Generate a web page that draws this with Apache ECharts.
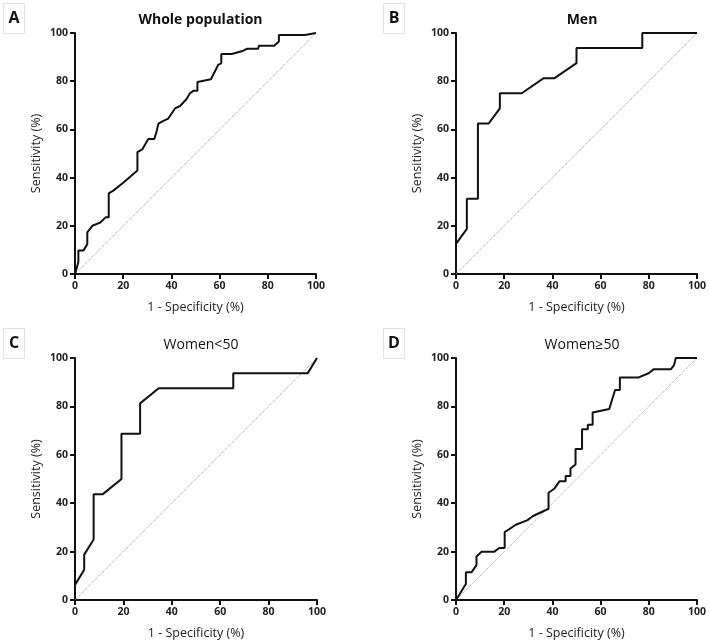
<!DOCTYPE html>
<html>
<head>
<meta charset="utf-8">
<title>ROC curves</title>
<script src="https://cdn.jsdelivr.net/npm/echarts@6/dist/echarts.min.js"></script>
<style>
  html, body { margin: 0; padding: 0; background: #fff; }
  #chart { width: 709px; height: 641px; }
</style>
</head>
<body>
<div id="chart"></div>
<script>
// A - whole population
const wholeFpr = [0, 1.4, 1.4, 3.5, 5.1, 5.1, 7.2, 10.4, 12.7, 14, 14, 15.9, 20, 25.9, 25.9, 27.9, 30.4, 32.9, 33.9, 34.6, 34.6, 36.7, 38.7, 41.5, 43.6, 46.3, 47.7, 49.1, 50.8, 50.8, 53.3, 56.4, 59.5, 60.7, 60.7, 65, 69.2, 71.5, 76, 76.3, 82.7, 84.6, 84.6, 95.4, 96.1, 100]
const wholeTpr = [0, 5, 9.7, 9.7, 12.4, 17.3, 20, 21.3, 23.5, 23.5, 33.5, 34.6, 37.9, 42.9, 50.6, 51.7, 56, 56, 59.3, 59.3, 62.4, 63.5, 64.5, 68.7, 69.7, 72.6, 75, 76, 76, 79.7, 80.2, 80.8, 86.9, 87.4, 91.3, 91.3, 92.4, 93.5, 93.5, 94.7, 94.7, 96.5, 99.2, 99.2, 100, 100]

// B - men
const menFpr = [0, 4.5, 4.5, 9.1, 9.1, 13.6, 18.2, 18.2, 27.3, 36.4, 40.9, 50, 50, 77.3, 77.3, 100]
const menTpr = [12.5, 18.75, 31.25, 31.25, 62.5, 62.5, 68.75, 75, 75, 81.25, 81.25, 87.5, 93.75, 93.75, 100, 100]

// C - women < 50
const youngFpr = [0, 3.8, 3.8, 7.7, 7.7, 11.5, 19.2, 19.2, 26.9, 26.9, 34.6, 65.4, 65.4, 96.2, 100]
const youngTpr = [6.25, 12.5, 18.75, 25, 43.75, 43.75, 50, 68.75, 68.75, 81.25, 87.5, 87.5, 93.75, 93.75, 100]

// D - women >= 50
const olderFpr = [0, 4.1, 4.1, 6.5, 8.5, 8.5, 10.6, 15.8, 17.9, 20.2, 20.2, 22, 24.8, 29.5, 32, 38.4, 38.4, 40.9, 43, 45.5, 45.5, 47.5, 47.5, 49.6, 49.6, 52.3, 52.3, 54.7, 54.7, 56.7, 56.7, 63.6, 66, 68, 68, 75.6, 79.9, 82, 89.1, 90.5, 91.2, 100]
const olderTpr = [0, 6.6, 11.5, 11.5, 14.4, 18, 19.9, 19.9, 21.5, 21.5, 28.1, 29.2, 31.1, 32.9, 34.7, 37.7, 44.3, 46.1, 49.1, 49.1, 51.2, 51.2, 54.3, 56, 62.4, 62.4, 70.6, 70.6, 72.4, 72.4, 77.5, 78.9, 86.8, 86.8, 91.9, 91.9, 93.7, 95.3, 95.3, 97.1, 100, 100]

const diagonal = [[0, 0], [100, 100]]
const titles = ['Whole population', 'Men', 'Women<50', 'Women≥50']
const letters = ['A', 'B', 'C', 'D']
const curves = [[wholeFpr, wholeTpr], [menFpr, menTpr], [youngFpr, youngTpr], [olderFpr, olderTpr]]

const font = 'Open Sans'
const grids = [
  { left: 75, top: 33, width: 241, height: 241 },
  { left: 456, top: 33, width: 242, height: 241 },
  { left: 75, top: 358, width: 242, height: 243 },
  { left: 456, top: 358, width: 242, height: 243 }
]

const axisCommon = {
  min: 0,
  max: 100,
  interval: 20,
  splitLine: { show: false },
  axisLine: { show: true, lineStyle: { color: '#111', width: 2 } },
  axisTick: { show: true, length: 5, lineStyle: { color: '#111', width: 2 } },
  axisLabel: { color: '#222', fontSize: 10.5, fontWeight: 'bold', fontFamily: font, margin: 7 },
  nameLocation: 'middle',
  nameTextStyle: { color: '#222', fontSize: 12.5, fontFamily: font }
}

const chart = echarts.init(document.getElementById('chart'))
chart.setOption({
  animation: false,
  backgroundColor: '#fff',
  title: grids.map((g, i) => ({
    text: titles[i],
    left: g.left + g.width / 2,
    top: i < 2 ? 8 : 333,
    textAlign: 'center',
    textStyle: { fontSize: 14, fontWeight: i < 2 ? 'bold' : 'normal', color: '#111', fontFamily: font }
  })),
  graphic: letters.map((l, i) => ({
    type: 'group',
    left: i % 2 ? 383 : 3,
    top: i < 2 ? 3 : 328,
    children: [
      { type: 'rect', shape: { x: 0, y: 0, width: 21, height: 30 }, style: { fill: '#fff', stroke: '#e2e2e2', lineWidth: 1 } },
      { type: 'text', x: 10.5, y: 15, style: { text: l, fill: '#111', font: 'bold 16px "Open Sans"', align: 'center', verticalAlign: 'middle' } }
    ]
  })),
  grid: grids,
  xAxis: grids.map((g, i) => Object.assign({}, axisCommon, {
    type: 'value',
    gridIndex: i,
    name: '1 - Specificity (%)',
    nameGap: 27
  })),
  yAxis: grids.map((g, i) => Object.assign({}, axisCommon, {
    type: 'value',
    gridIndex: i,
    name: 'Sensitivity (%)',
    nameGap: 32
  })),
  series: curves.flatMap((c, i) => [{
    type: 'line',
    xAxisIndex: i,
    yAxisIndex: i,
    data: diagonal,
    showSymbol: false,
    lineStyle: { color: '#999', width: 1, type: 'dotted' },
    z: 1
  }, {
    type: 'line',
    xAxisIndex: i,
    yAxisIndex: i,
    data: c[0].map((x, k) => [x, c[1][k]]),
    showSymbol: false,
    lineStyle: { color: '#111', width: 2 },
    z: 2
  }])
})
</script>
</body>
</html>
